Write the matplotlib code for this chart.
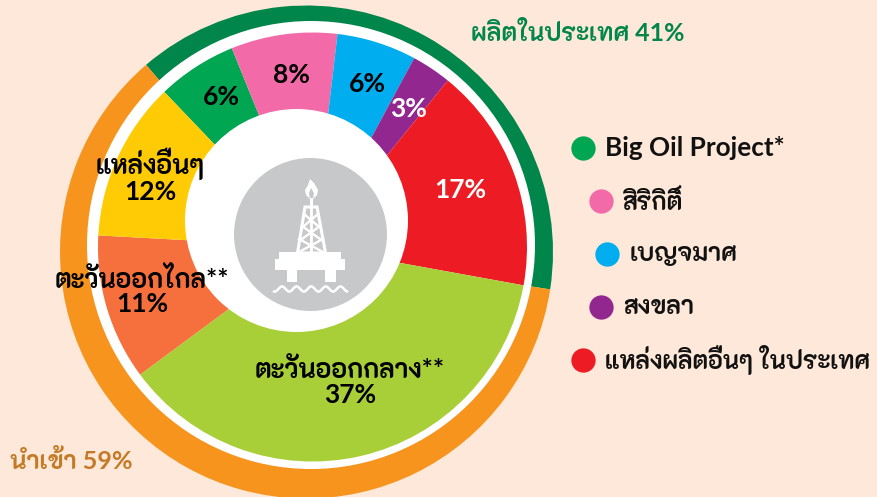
import numpy as np
import matplotlib
matplotlib.use('Agg')
import matplotlib.pyplot as plt
from matplotlib.patches import Circle, Polygon, Rectangle
from matplotlib.lines import Line2D

plt.rcParams['font.family'] = ['Lato', 'K2D', 'Kanit', 'DejaVu Sans']

# inner ring, clockwise from the green slice
shares = [6, 8, 6, 3, 17, 37, 11, 12]
colors = ['#00a651', '#f26ba8', '#00aeef', '#92278f', '#ed1c24', '#a8cf38', '#f5703c', '#ffcb05']
share_labels = ['6%', '8%', '6%', '3%', '17%', 'ตะวันออกกลาง**\n37%', 'ตะวันออกไกล**\n11%', 'แหล่งอื่นๆ\n12%']
label_colors = ['black', 'black', 'black', 'white', 'white', 'black', 'black', 'black']
# outer ring as drawn in the picture (the printed labels say 41 / 59)
ring_shares = [38.7, 61.3]
ring_labels = ['ผลิตในประเทศ 41%', 'นำเข้า 59%']
ring_colors = ['#00854a', '#f7941d']

legend_names = ['Big Oil Project*', 'สิริกิติ์', 'เบญจมาศ', 'สงขลา', 'แหล่งผลิตอื่นๆ ในประเทศ']
legend_colors = colors[:5]
legend_sizes = [18.8, 18, 18, 18, 17.8]

W, H = 877, 497
BG = '#fee8d9'

def py(y):
    return H - y

def label(x, y, s, color, size=19, **kw):
    return ax.text(x, py(y), s, va='center', fontsize=size, fontweight='bold', color=color, zorder=8, **kw)

fig = plt.figure(figsize=(W / 100, H / 100), dpi=100, facecolor=BG)
ax = fig.add_axes([0, 0, 1, 1])

# outer ring, its inner edge is off centre so a white disc cuts it
ax.pie(ring_shares, colors=ring_colors, startangle=130.6, counterclock=False,
       center=(306.5, py(252)), radius=246.5, frame=True,
       wedgeprops={'linewidth': 0, 'zorder': 1})
ax.add_patch(Circle((311, py(245)), 224, facecolor='white', edgecolor='none', zorder=2))

# inner pie
wedges, _ = ax.pie(shares, colors=colors, startangle=133.7, counterclock=False,
                   center=(312.5, py(247)), radius=214.5, frame=True,
                   wedgeprops={'linewidth': 0, 'zorder': 3})

ax.set_xlim(0, W)
ax.set_ylim(0, H)
ax.set_aspect('equal')
ax.axis('off')

# centre hole and icon
ax.add_patch(Circle((296.5, py(220.5)), 111.5, facecolor='white', edgecolor='none', zorder=5))
ax.add_patch(Circle((310.5, py(234.5)), 76.5, facecolor='#c7c8ca', edgecolor='none', zorder=6))

rig = dict(facecolor='white', edgecolor='none', zorder=7)
for x, y, w, h in [(279, 252, 62, 7), (275, 259, 70, 11), (287, 270, 10, 12), (325, 270, 11, 12),
                   (310, 198, 3, 10)]:
    ax.add_patch(Rectangle((x, py(y + h)), w, h, **rig))
ax.add_patch(Polygon([(305, py(207)), (317, py(207)), (325.5, py(253)), (297.5, py(253))],
                     closed=True, fill=False, edgecolor='white', linewidth=2.2, zorder=7))
ax.plot([311, 311], [py(207), py(253)], color='white', lw=2, zorder=7)
for a, b, xl, xr in [(214, 226, 304, 318), (226, 239, 302, 320), (239, 252, 299, 323)]:
    ax.plot([xl, xr], [py(a), py(b)], color='white', lw=1.7, zorder=7)
    ax.plot([xr, xl], [py(a), py(b)], color='white', lw=1.7, zorder=7)
ax.add_patch(Polygon([(310, py(179)), (314, py(183)), (318, py(190)), (317, py(195)), (313, py(199)),
                      (314, py(193)), (311, py(188)), (309, py(193)), (310, py(199)),
                      (306, py(195)), (305, py(190)), (308, py(185))], closed=True, **rig))
wave_x = np.linspace(274, 347, 100)
wave_y = 289 + 2.6 * np.cos((wave_x - 274) / 73 * 2 * np.pi * 5 - 0.3)
ax.plot(wave_x, py(wave_y), color='white', lw=1.8, zorder=7)

# slice labels
label_pos = [(221, 97), (291, 75), (367, 84), (409, 109), (460, 190), (350, 382), (142, 291), (150, 176)]
for (x, y), s, c in zip(label_pos, share_labels, label_colors):
    label(x, y, s, c, ha='center', linespacing=1.02)

label(578, 33, ring_labels[0], ring_colors[0], size=17.9, ha='center')
label(71, 461, ring_labels[1], '#c47a26', size=18.2, ha='center')

# legend
legend_dots = [(583, 148), (601, 201), (607, 254), (601, 307), (583, 360)]
legend_text_x = [605, 623, 630, 623, 605]
for name, col, (dx, dy), tx, fs in zip(legend_names, legend_colors, legend_dots, legend_text_x, legend_sizes):
    ax.add_line(Line2D([dx], [py(dy)], marker='o', markersize=17.5, color=col,
                       markeredgewidth=0, zorder=8))
    label(tx, dy, name, '#111111', size=fs, ha='left')

fig.savefig('out.png', dpi=100, facecolor=BG)
